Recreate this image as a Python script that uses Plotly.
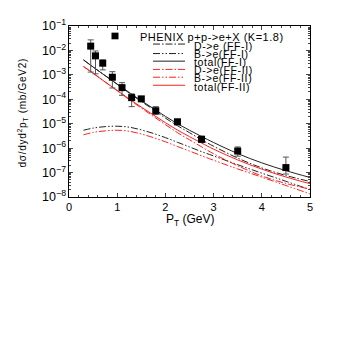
import plotly.graph_objects as go

# ---------------- data ----------------
pt_curve = [0.3, 0.5, 0.75, 1.0, 1.25, 1.5, 1.75, 2.0, 2.25, 2.5, 2.75, 3.0, 3.5, 4.0, 4.5, 5.0]

d_ff1 = [4.1e-3, 2.1e-3, 9.3e-4, 4.1e-4, 1.8e-4, 8.1e-5, 3.8e-5, 1.7e-5, 8.3e-6, 4.3e-6,
         2.2e-6, 1.2e-6, 3.9e-7, 1.55e-7, 7.6e-8, 4.3e-8]
b_ff1 = [5.4e-6, 6.6e-6, 7.6e-6, 7.9e-6, 7.2e-6, 5.6e-6, 4.0e-6, 2.7e-6, 1.74e-6, 1.12e-6,
         7.2e-7, 4.8e-7, 2.1e-7, 9.5e-8, 4.4e-8, 2.0e-8]
tot_ff1 = [4.1e-3, 2.1e-3, 9.3e-4, 4.2e-4, 1.9e-4, 8.7e-5, 4.2e-5, 2.0e-5, 1.0e-5, 5.4e-6,
           3.0e-6, 1.7e-6, 6.0e-7, 2.5e-7, 1.2e-7, 6.3e-8]
d_ff2 = [2.2e-3, 1.17e-3, 5.1e-4, 2.24e-4, 9.7e-5, 4.4e-5, 2.0e-5, 9.2e-6, 4.3e-6, 2.2e-6,
         1.13e-6, 5.9e-7, 1.9e-7, 7.3e-8, 3.6e-8, 2.1e-8]
b_ff2 = [3.5e-6, 4.4e-6, 5.1e-6, 5.4e-6, 4.9e-6, 3.8e-6, 2.7e-6, 1.82e-6, 1.17e-6, 7.6e-7,
         4.9e-7, 3.2e-7, 1.41e-7, 6.5e-8, 2.95e-8, 1.35e-8]
tot_ff2 = [2.2e-3, 1.17e-3, 5.1e-4, 2.3e-4, 1.02e-4, 4.8e-5, 2.3e-5, 1.1e-5, 5.5e-6, 2.95e-6,
           1.62e-6, 9.1e-7, 3.3e-7, 1.38e-7, 6.6e-8, 3.5e-8]

pt_data = [0.45, 0.55, 0.7, 0.9, 1.1, 1.3, 1.5, 1.8, 2.25, 2.75, 3.5, 4.5]
y_data = [1.5e-2, 6.0e-3, 3.0e-3, 8.0e-4, 3.0e-4, 1.17e-4, 1.04e-4, 3.4e-5, 1.2e-5, 2.3e-6, 7.6e-7, 1.6e-7]
err_plus = [1.2e-2, 3.5e-3, 1.1e-3, 5.5e-4, 1.8e-4, 5.0e-5, 2.2e-5, 1.6e-5, 3.0e-6, 8.0e-7, 3.6e-7, 2.7e-7]
err_minus = [1.37e-2, 4.9e-3, 1.4e-3, 5.1e-4, 1.55e-4, 6.7e-5, 1.9e-5, 1.0e-5, 3.0e-6, 6.0e-7, 2.9e-7, 7.3e-8]

legend_title = "PHENIX p+p->e+X (K=1.8)"
legend_labels = ["D->e (FF-I)", "B->e(FF-I)", "total(FF-I)", "D->e(FF-II)", "B->e(FF-II)", "total(FF-II)"]

# ---------------- style ----------------
BLACK = "#222222"
RED = "#ff2020"
DASHDOT = "7px,2px,1.5px,2px"
DASHDOTDOT = "7px,2px,1.5px,2px,1.5px,2px"
styles = [
    (BLACK, DASHDOT), (BLACK, DASHDOTDOT), (BLACK, "solid"),
    (RED, DASHDOT), (RED, DASHDOTDOT), (RED, "solid"),
]
series = [d_ff1, b_ff1, tot_ff1, d_ff2, b_ff2, tot_ff2]

FONT = "Liberation Sans, Arial, sans-serif"

fig = go.Figure()
for ys, (col, dash), name in zip(series, styles, legend_labels):
    fig.add_trace(go.Scatter(x=pt_curve, y=ys, mode="lines", name=name,
                             line=dict(color=col, dash=dash, width=1, shape="spline"),
                             showlegend=False))

fig.add_trace(go.Scatter(
    x=pt_data, y=y_data, mode="markers", name="PHENIX",
    marker=dict(symbol="square", size=7, color="black"),
    error_y=dict(type="data", array=err_plus, arrayminus=err_minus, symmetric=False,
                 color="#555555", thickness=1, width=3),
    showlegend=False))

# plot area in screenshot pixels: x 69..310, y 17..197 (page body adds an 8px offset)
L, R, T, B = 69, 310, 17, 197
W, H = R - L, B - T
OFF = 8


def px(x):
    return (x - L) / W


def py(y):
    return (B - y) / H


def spaced(s, sp):
    return '<span style="letter-spacing:%spx">%s</span>' % (sp, s)


shapes = []
annotations = []

# legend marker + title
shapes.append(dict(type="rect", xref="paper", yref="paper",
                   x0=px(111.5), x1=px(118.5), y0=py(31), y1=py(24),
                   fillcolor="black", line=dict(width=0)))
annotations.append(dict(text=spaced(legend_title, 0.5), xref="paper", yref="paper",
                        x=px(137.5), y=py(28.5), xanchor="left", yanchor="middle",
                        showarrow=False, font=dict(size=11, color="black", family=FONT)))

row_text = [37.7, 46.5, 55.0, 63.5, 72.0, 80.7]
row_line = [36.0, 46.0, 54.0, 62.7, 70.9, 79.4]
for yt, yl, (col, dash), lab in zip(row_text, row_line, styles, legend_labels):
    shapes.append(dict(type="line", xref="paper", yref="paper",
                       x0=px(153), x1=px(185), y0=py(yl), y1=py(yl),
                       line=dict(color=col, dash=dash, width=1)))
    annotations.append(dict(text=spaced(lab, 0.6), xref="paper", yref="paper",
                            x=px(192), y=py(yt), xanchor="left", yanchor="middle",
                            showarrow=False, font=dict(size=10.5, color="black", family=FONT)))

# axis titles
annotations.append(dict(text=spaced("dσ/dyd<sup>2</sup>p<sub>T</sub> (mb/GeV2)", 0.7),
                        xref="paper", yref="paper",
                        x=px(22), y=py(109), xanchor="center", yanchor="middle", textangle=-90,
                        showarrow=False, font=dict(size=10, color="black", family=FONT)))
annotations.append(dict(text="P<sub>T</sub> (GeV)", xref="paper", yref="paper",
                        x=0.5, y=py(221), xanchor="center", yanchor="middle",
                        showarrow=False, font=dict(size=12, color="black", family=FONT)))

fig.update_layout(
    width=345, height=345,
    margin=dict(l=L - OFF, r=345 - (L - OFF) - W, t=T - OFF, b=345 - (T - OFF) - H),
    paper_bgcolor="white", plot_bgcolor="white",
    font=dict(family=FONT, size=10, color="black"),
    shapes=shapes, annotations=annotations,
    showlegend=False,
)
fig.update_xaxes(range=[0, 5], dtick=1, ticks="inside", ticklen=4, tickwidth=1,
                 showline=True, linecolor="black", linewidth=1, mirror="allticks",
                 showgrid=False, zeroline=False, tickfont=dict(size=11),
                 minor=dict(dtick=0.2, ticks="inside", ticklen=2, showgrid=False))
fig.update_yaxes(type="log", range=[-8, -1], dtick=1, exponentformat="power",
                 ticks="inside", ticklen=4, tickwidth=1,
                 showline=True, linecolor="black", linewidth=1, mirror="allticks",
                 showgrid=False, zeroline=False, tickfont=dict(size=10),
                 minor=dict(ticks="inside", ticklen=2, showgrid=False))

fig.write_html("out.html")
